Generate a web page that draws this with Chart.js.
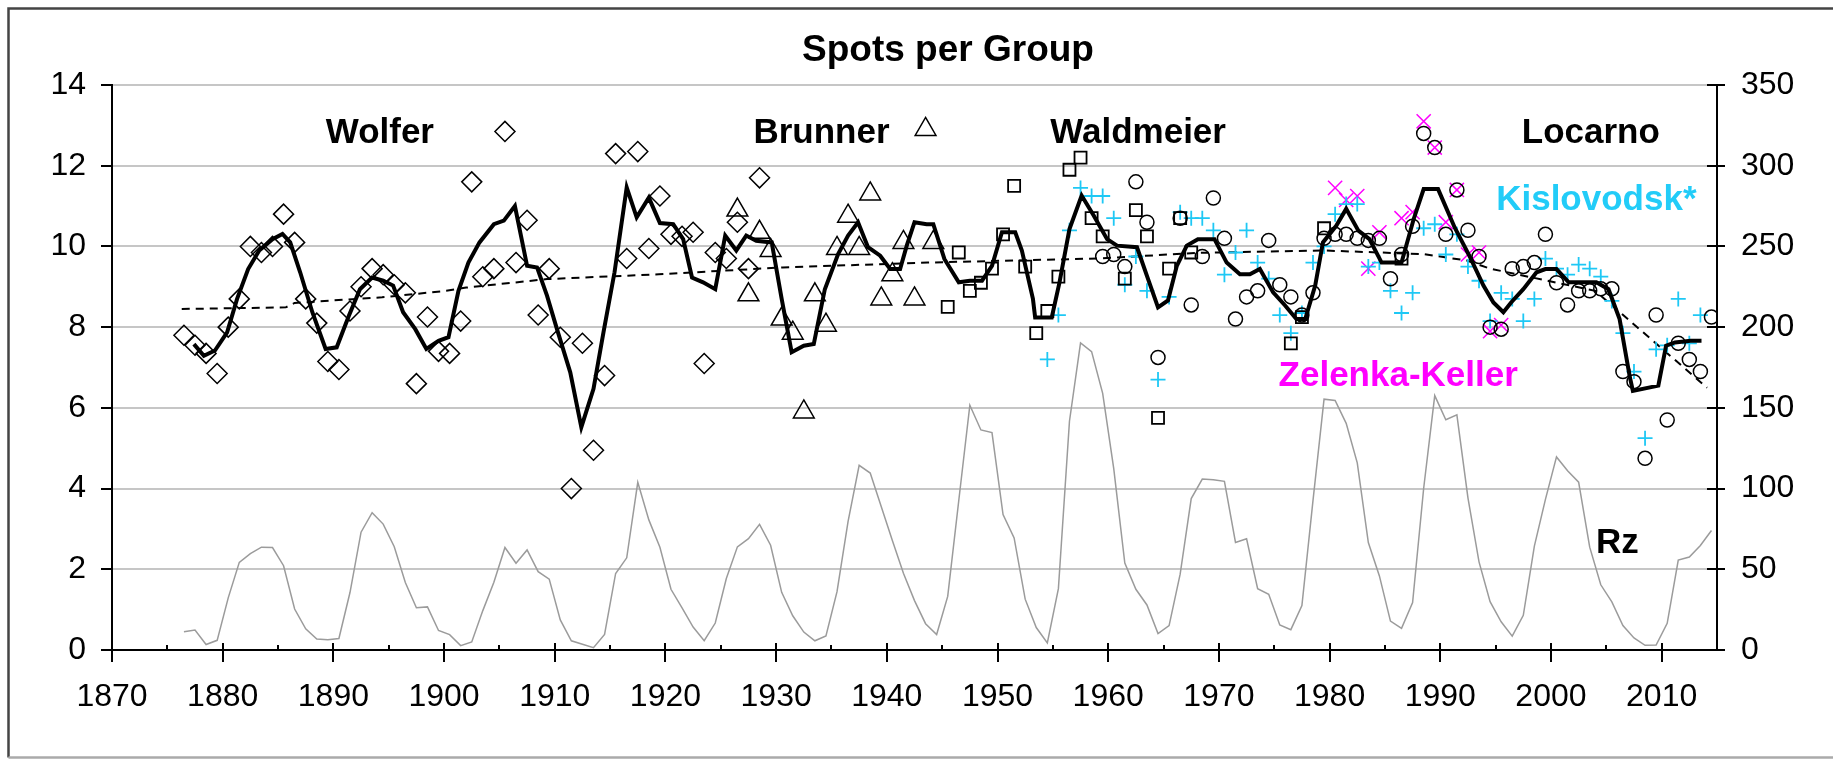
<!DOCTYPE html>
<html>
<head>
<meta charset="utf-8">
<script src="https://cdn.jsdelivr.net/npm/chart.js@4.4.1/dist/chart.umd.min.js"></script>
<style>
  html, body { margin: 0; padding: 0; background: #fff; }
  canvas { display: block; }
</style>
</head>
<body>
<canvas id="spg" width="1833" height="759"></canvas>
<script>
// yearly sunspot number Rz, one value per year starting 1876 (plotted mid-year)
const rzFirstYear = 1876;
const rzValues = [
  11.3, 12.4, 3.4, 6.0, 32.3, 54.3, 59.7, 63.7, 63.5, 52.2,
  25.4, 13.1, 6.8, 6.3, 7.1, 35.6, 73.0, 85.1, 78.0, 64.0,
  41.8, 26.2, 26.7, 12.1, 9.5, 2.7, 5.0, 24.4, 42.0, 63.5,
  53.8, 62.0, 48.5, 43.9, 18.6, 5.7, 3.6, 1.4, 9.6, 47.4,
  57.1, 103.9, 80.6, 63.6, 37.6, 26.1, 14.2, 5.8, 16.7, 44.3,
  63.9, 69.0, 77.8, 64.9, 35.7, 21.2, 11.1, 5.7, 8.7, 36.1,
  79.7, 114.4, 109.6, 88.8, 67.8, 47.5, 30.6, 16.3, 9.6, 33.2,
  92.6, 151.6, 136.3, 134.7, 83.9, 69.4, 31.5, 13.9, 4.4, 38.0,
  141.7, 190.2, 184.8, 159.0, 112.3, 53.9, 37.6, 27.9, 10.2, 15.1,
  47.0, 93.8, 105.9, 105.5, 104.5, 66.6, 68.9, 38.0, 34.5, 15.5,
  12.6, 27.5, 92.5, 155.4, 154.6, 140.4, 115.9, 66.6, 45.9, 17.9,
  13.4, 29.4, 100.2, 157.6, 142.6, 145.7, 94.3, 54.6, 29.9, 17.5,
  8.6, 21.5, 64.3, 93.3, 119.6, 111.0, 104.0, 63.7, 40.4, 29.8,
  15.2, 7.5, 2.9, 3.1, 16.5, 55.7, 57.6, 64.7, 74.0
];

// Wolfer (diamonds)
const wolferYears = [1876.5, 1877.5, 1878.5, 1879.5, 1880.5, 1881.5, 1882.5, 1883.5, 1884.5, 1885.5,
  1886.5, 1887.5, 1888.5, 1889.5, 1890.5, 1891.5, 1892.5, 1893.5, 1894.5, 1895.5,
  1896.5, 1897.5, 1898.5, 1899.5, 1900.5, 1901.5, 1902.5, 1903.5, 1904.5, 1905.5,
  1906.5, 1907.5, 1908.5, 1909.5, 1910.5, 1911.5, 1912.5, 1913.5, 1914.5, 1915.5,
  1916.5, 1917.5, 1918.5, 1919.5, 1920.5, 1921.5, 1922.5, 1923.5, 1924.5, 1925.5,
  1926.5, 1927.5, 1928.5];
const wolferSpg = [7.8, 7.55, 7.35, 6.85, 8.0, 8.7, 10.0, 9.85, 10.0, 10.8,
  10.1, 8.7, 8.1, 7.15, 6.95, 8.4, 9.0, 9.45, 9.3, 9.05,
  8.85, 6.6, 8.25, 7.4, 7.35, 8.15, 11.6, 9.25, 9.45, 12.85,
  9.6, 10.65, 8.3, 9.45, 7.75, 4.0, 7.6, 4.95, 6.8, 12.3,
  9.7, 12.35, 9.95, 11.25, 10.3, 10.25, 10.35, 7.1, 9.85, 9.7,
  10.6, 9.45, 11.7];

// Brunner (triangles)
const brunnerYears = [1926.5, 1927.5, 1928.5, 1929.5, 1930.5, 1931.5, 1932.5, 1933.5, 1934.5, 1935.5,
  1936.5, 1937.5, 1938.5, 1939.5, 1940.5, 1941.5, 1942.5, 1943.5, 1944.2];
const brunnerSpg = [10.9, 8.8, 10.35, 9.9, 8.2, 7.85, 5.9, 8.8, 8.05, 9.95,
  10.75, 9.95, 11.3, 8.7, 9.3, 10.1, 8.7, 12.9, 10.1];

// Waldmeier (squares)
const waldmeierYears = [1945.5, 1946.5, 1947.5, 1948.5, 1949.5, 1950.5, 1951.5, 1952.5, 1953.5, 1954.5,
  1955.5, 1956.5, 1957.5, 1958.5, 1959.5, 1961.5, 1962.5, 1963.5, 1964.5, 1965.5,
  1966.5, 1967.5, 1976.5, 1977.5, 1979.5, 1986.5];
const waldmeierSpg = [8.5, 9.85, 8.9, 9.1, 9.45, 10.3, 11.5, 9.5, 7.85, 8.4,
  9.25, 11.9, 12.2, 10.7, 10.25, 9.2, 10.9, 10.25, 5.75, 9.45,
  10.7, 9.85, 7.6, 8.25, 10.45, 9.7];

// Locarno (circles)
const locarnoYears = [1959.5, 1960.5, 1961.5, 1962.5, 1963.5, 1964.5, 1966.5, 1967.5, 1968.5, 1969.5,
  1970.5, 1971.5, 1972.5, 1973.5, 1974.5, 1975.5, 1976.5, 1977.5, 1978.5, 1979.5,
  1980.5, 1981.5, 1982.5, 1983.5, 1984.5, 1985.5, 1986.5, 1987.5, 1988.5, 1989.5,
  1990.5, 1991.5, 1992.5, 1993.5, 1994.5, 1995.5, 1996.5, 1997.5, 1998.5, 1999.5,
  2000.5, 2001.5, 2002.5, 2003.5, 2004.5, 2005.5, 2006.5, 2007.5, 2008.5, 2009.5,
  2010.5, 2011.5, 2012.5, 2013.5, 2014.5];
const locarnoSpg = [9.75, 9.8, 9.5, 11.6, 10.6, 7.25, 10.7, 8.55, 9.75, 11.2,
  10.2, 8.2, 8.75, 8.9, 10.15, 9.05, 8.75, 8.3, 8.85, 10.2,
  10.3, 10.3, 10.2, 10.15, 10.2, 9.2, 9.8, 10.5, 12.8, 12.45,
  10.3, 11.4, 10.4, 9.75, 8.0, 7.95, 9.45, 9.5, 9.6, 10.3,
  9.1, 8.55, 8.9, 8.9, 8.95, 8.95, 6.9, 6.65, 4.75, 8.3,
  5.7, 7.6, 7.2, 6.9, 8.25];

// Kislovodsk* (plus signs)
const kislovodskYears = [1954.5, 1955.5, 1956.5, 1957.5, 1958.5, 1959.5, 1960.5, 1961.5, 1962.5, 1963.5,
  1964.5, 1965.5, 1966.5, 1967.5, 1968.5, 1969.5, 1970.5, 1971.5, 1972.5, 1973.5,
  1974.5, 1975.5, 1976.5, 1977.5, 1978.5, 1979.5, 1980.5, 1981.5, 1982.5, 1983.5,
  1984.5, 1985.5, 1986.5, 1987.5, 1988.5, 1989.5, 1990.5, 1991.5, 1992.5, 1993.5,
  1994.5, 1995.5, 1996.5, 1997.5, 1998.5, 1999.5, 2000.5, 2001.5, 2002.5, 2003.5,
  2004.5, 2005.5, 2006.5, 2007.5, 2008.5, 2009.5, 2010.5, 2011.5, 2012.5, 2013.5];
const kislovodskSpg = [7.2, 8.3, 10.4, 11.45, 11.25, 11.25, 10.7, 9.05, 9.75, 8.9,
  6.7, 8.75, 10.85, 10.7, 10.7, 10.4, 9.3, 9.85, 10.4, 9.6,
  9.2, 8.3, 7.85, 8.35, 9.6, 10.0, 10.8, 11.05, 11.05, 9.5,
  9.6, 8.9, 8.35, 8.85, 10.45, 10.55, 9.8, 10.3, 9.5, 9.15,
  8.15, 8.85, 8.7, 8.15, 8.7, 9.7, 9.45, 9.3, 9.55, 9.45,
  9.25, 8.65, 7.85, 6.9, 5.25, 7.45, 7.55, 8.7, 7.6, 8.3];

// Zelenka-Keller (x marks)
const zelenkaYears = [1980.5, 1981.5, 1982.5, 1983.5, 1984.5, 1986.5, 1987.5, 1988.5, 1989.5, 1990.5,
  1991.5, 1992.5, 1993.5, 1994.5, 1995.5];
const zelenkaSpg = [11.45, 11.15, 11.25, 9.45, 10.35, 10.7, 10.85, 13.1, 12.45, 10.6,
  11.4, 9.8, 9.85, 7.9, 8.05];

// smoothed composite (thick black line)
const smoothYears = [1877.4, 1878.3, 1879.3, 1880.4, 1881.3, 1882.3, 1883.3, 1884.5, 1885.4, 1886.1,
  1887.0, 1888.1, 1889.3, 1890.3, 1891.4, 1892.4, 1893.5, 1894.5, 1895.4, 1896.3,
  1897.4, 1898.4, 1899.5, 1900.4, 1901.3, 1902.2, 1903.2, 1904.5, 1905.4, 1906.4,
  1907.5, 1908.4, 1909.3, 1910.2, 1911.4, 1912.4, 1913.5, 1914.4, 1915.4, 1916.5,
  1917.4, 1918.5, 1919.5, 1920.7, 1921.6, 1922.4, 1923.4, 1924.5, 1925.4, 1926.4,
  1927.3, 1928.2, 1929.6, 1930.5, 1931.4, 1932.5, 1933.4, 1934.4, 1935.6, 1936.5,
  1937.4, 1938.3, 1939.4, 1940.3, 1941.2, 1941.8, 1942.5, 1943.6, 1944.2, 1945.2,
  1946.5, 1947.5, 1948.6, 1949.5, 1950.4, 1951.6, 1952.2, 1953.2, 1953.4, 1954.9,
  1955.6, 1956.5, 1957.6, 1958.7, 1959.9, 1960.8, 1962.6, 1963.5, 1964.5, 1965.4,
  1966.2, 1967.1, 1968.1, 1969.6, 1970.7, 1971.9, 1972.8, 1973.7, 1974.9, 1976.0,
  1977.0, 1977.8, 1978.7, 1979.4, 1980.6, 1981.5, 1982.6, 1983.6, 1984.7, 1986.5,
  1987.6, 1988.5, 1989.8, 1991.3, 1992.7, 1993.9, 1994.8, 1995.7, 1996.4, 1997.5,
  1998.7, 1999.5, 2000.5, 2001.6, 2004.1, 2005.2, 2006.2, 2007.1, 2007.4, 2009.7,
  2010.4, 2011.2, 2012.6, 2013.6];
const smoothSpg = [7.58, 7.29, 7.42, 7.87, 8.7, 9.44, 9.9, 10.18, 10.31, 10.1,
  9.36, 8.37, 7.46, 7.5, 8.28, 8.94, 9.23, 9.15, 9.03, 8.37,
  7.95, 7.46, 7.66, 7.75, 8.9, 9.6, 10.1, 10.55, 10.64, 11.0,
  9.52, 9.48, 8.78, 7.95, 6.88, 5.52, 6.47, 7.87, 9.36, 11.46,
  10.72, 11.21, 10.58, 10.55, 10.18, 9.23, 9.11, 8.94, 10.27, 9.9,
  10.27, 10.14, 10.1, 8.7, 7.38, 7.54, 7.58, 8.94, 9.81, 10.27,
  10.6, 9.98, 9.77, 9.44, 9.44, 10.02, 10.6, 10.55, 10.55, 9.69,
  9.11, 9.15, 9.15, 9.52, 10.35, 10.35, 9.9, 8.7, 8.24, 8.24,
  9.11, 10.43, 11.26, 10.76, 10.18, 10.02, 9.98, 9.27, 8.49, 8.66,
  9.52, 10.02, 10.18, 10.18, 9.6, 9.31, 9.31, 9.44, 8.86, 8.53,
  8.2, 8.2, 9.03, 10.1, 10.51, 10.93, 10.39, 10.18, 9.6, 9.6,
  10.68, 11.42, 11.42, 10.47, 9.73, 9.03, 8.61, 8.37, 8.61, 8.94,
  9.36, 9.44, 9.44, 9.11, 9.11, 8.94, 8.2, 6.8, 6.42, 6.55,
  7.54, 7.62, 7.66, 7.66];

// long-term trend (dashed line)
const trendYears = [1876.3, 1885.7, 1886.5, 1894.4, 1900.2, 1902.0, 1909.3, 1919.4, 1930.6, 1943.7,
  1959.0, 1968.1, 1979.4, 1988.5, 1992.4, 1994.5, 2004.0, 2014.1];
const trendSpg = [8.45, 8.49, 8.6, 8.74, 8.9, 8.98, 9.19, 9.31, 9.48, 9.6,
  9.7, 9.84, 9.9, 9.81, 9.65, 9.45, 8.9, 6.5];

const FONT = '"Liberation Sans", Arial, Helvetica, sans-serif';
Chart.defaults.font.family = FONT;
Chart.defaults.color = '#000';

const pts = (xs, ys) => xs.map((x, i) => ({ x: x, y: ys[i] }));

function markerSet(label, xs, ys, style, radius, color, width) {
  return {
    label: label,
    data: pts(xs, ys),
    showLine: false,
    pointStyle: style,
    pointRadius: radius,
    pointBorderColor: color,
    pointBackgroundColor: 'rgba(0,0,0,0)',
    pointBorderWidth: width,
    yAxisID: 'y',
    order: 2
  };
}

// text labels placed in data units
const notes = [
  { text: 'Wolfer', x: 1894.2, y: 12.56, color: '#000' },
  { text: 'Brunner', x: 1934.1, y: 12.56, color: '#000' },
  { text: 'Waldmeier', x: 1962.7, y: 12.56, color: '#000' },
  { text: 'Locarno', x: 2003.6, y: 12.56, color: '#000' },
  { text: 'Kislovodsk*', x: 2004.1, y: 10.9, color: '#22ccf8' },
  { text: 'Zelenka-Keller', x: 1986.2, y: 6.54, color: '#ff00ff' },
  { text: 'Rz', x: 2006.0, y: 2.41, color: '#000' }
];

const frame = {
  id: 'frame',
  beforeDraw(chart) {
    const { ctx, width } = chart;
    ctx.save();
    ctx.fillStyle = '#fff';
    ctx.fillRect(0, 0, chart.width, chart.height);
    ctx.strokeStyle = '#444';
    ctx.lineWidth = 2.5;
    ctx.beginPath();
    ctx.moveTo(width + 5, 8.5);
    ctx.lineTo(8.5, 8.5);
    ctx.lineTo(8.5, 757.5);
    ctx.stroke();
    ctx.strokeStyle = '#aaa';
    ctx.beginPath();
    ctx.moveTo(8.5, 757.5);
    ctx.lineTo(width + 5, 757.5);
    ctx.stroke();
    ctx.restore();
  }
};

const innerTicks = {
  id: 'innerTicks',
  afterDraw(chart) {
    const { ctx, chartArea, scales } = chart;
    ctx.save();
    ctx.strokeStyle = '#000';
    ctx.lineWidth = 2;
    ctx.beginPath();
    scales.x.ticks.forEach(t => {
      if (t.value >= 2015) return;
      const px = Math.round(scales.x.getPixelForValue(t.value));
      const len = t.value % 10 === 0 ? 7 : 5;
      ctx.moveTo(px, chartArea.bottom);
      ctx.lineTo(px, chartArea.bottom - len);
    });
    scales.y2.ticks.forEach(t => {
      const py = Math.round(scales.y2.getPixelForValue(t.value));
      ctx.moveTo(chartArea.right, py);
      ctx.lineTo(chartArea.right - 10, py);
    });
    ctx.stroke();

    // title and series names
    ctx.textAlign = 'center';
    ctx.textBaseline = 'alphabetic';
    ctx.fillStyle = '#000';
    ctx.font = 'bold 37px ' + FONT;
    ctx.fillText('Spots per Group', 948, 61);
    ctx.font = 'bold 35px ' + FONT;
    notes.forEach(n => {
      ctx.fillStyle = n.color;
      ctx.fillText(n.text, scales.x.getPixelForValue(n.x), scales.y.getPixelForValue(n.y));
    });
    ctx.restore();
  }
};

new Chart(document.getElementById('spg'), {
  type: 'scatter',
  data: {
    datasets: [
      {
        label: 'Smoothed',
        data: pts(smoothYears, smoothSpg),
        showLine: true,
        borderColor: '#000',
        borderWidth: 4,
        pointRadius: 0,
        yAxisID: 'y',
        order: 1
      },
      markerSet('Wolfer', wolferYears, wolferSpg, 'rectRot', 10, '#000', 1.5),
      markerSet('Brunner', brunnerYears, brunnerSpg, 'triangle', 12, '#000', 1.5),
      markerSet('Waldmeier', waldmeierYears, waldmeierSpg, 'rect', 8.5, '#000', 1.8),
      markerSet('Locarno', locarnoYears, locarnoSpg, 'circle', 7, '#000', 1.5),
      markerSet('Kislovodsk*', kislovodskYears, kislovodskSpg, 'cross', 7.5, '#1ec8f5', 1.8),
      markerSet('Zelenka-Keller', zelenkaYears, zelenkaSpg, 'crossRot', 10, '#ff00ff', 1.5),
      {
        label: 'Trend',
        data: pts(trendYears, trendSpg),
        showLine: true,
        borderColor: '#000',
        borderWidth: 2,
        borderDash: [8, 6],
        pointRadius: 0,
        yAxisID: 'y',
        order: 8
      },
      {
        label: 'Rz',
        data: rzValues.map((v, i) => ({ x: rzFirstYear + i + 0.5, y: v })),
        showLine: true,
        borderColor: '#9b9b9b',
        borderWidth: 1.5,
        pointRadius: 0,
        yAxisID: 'y2',
        order: 9
      }
    ]
  },
  options: {
    responsive: false,
    devicePixelRatio: 1,
    animation: false,
    events: [],
    layout: { padding: { left: 0, right: 30, top: 85, bottom: 20 } },
    plugins: {
      legend: { display: false },
      tooltip: { enabled: false },
      title: { display: false }
    },
    scales: {
      x: {
        type: 'linear',
        position: 'bottom',
        min: 1870,
        max: 2015,
        afterBuildTicks: s => {
          const ticks = [];
          for (let v = 1870; v <= 2015; v += 5) ticks.push({ value: v });
          s.ticks = ticks;
        },
        afterFit: s => { s.height = 89; },
        ticks: {
          autoSkip: false,
          maxRotation: 0,
          padding: 16,
          color: '#000',
          font: { size: 32 },
          callback: v => (v % 10 === 0 ? String(v) : '')
        },
        grid: {
          drawOnChartArea: false,
          tickLength: 12,
          lineWidth: 2,
          color: c => (c.tick && c.tick.value % 10 === 0 ? '#000' : 'rgba(0,0,0,0)')
        },
        border: { color: '#000', width: 2 }
      },
      y: {
        position: 'left',
        min: 0,
        max: 14,
        afterFit: s => { s.width = 112; },
        ticks: { stepSize: 2, padding: 15, color: '#000', font: { size: 32 } },
        grid: {
          color: c => (c.tick && c.tick.value === 0 ? 'rgba(0,0,0,0)' : '#c6c6c6'),
          lineWidth: 2,
          tickLength: 11,
          tickColor: '#000',
          tickWidth: 2
        },
        border: { color: '#000', width: 2 }
      },
      y2: {
        position: 'right',
        min: 0,
        max: 350,
        afterFit: s => { s.width = 86; },
        ticks: { stepSize: 50, padding: 16, color: '#000', font: { size: 32 } },
        grid: { drawOnChartArea: false, tickLength: 8, color: '#000', lineWidth: 2 },
        border: { color: '#000', width: 2 }
      }
    }
  },
  plugins: [frame, innerTicks]
});
</script>
</body>
</html>
